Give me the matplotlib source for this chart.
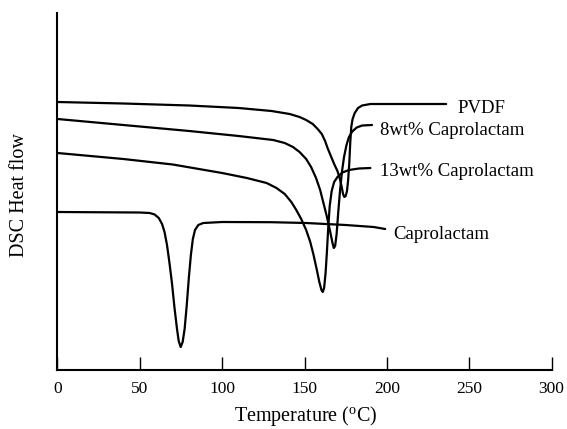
import matplotlib
matplotlib.use("Agg")
import matplotlib.pyplot as plt

plt.rcParams['font.family'] = ['Liberation Serif', 'DejaVu Serif']
plt.rcParams['mathtext.fontset'] = 'custom'
plt.rcParams['mathtext.rm'] = 'Liberation Serif'
plt.rcParams['mathtext.it'] = 'Liberation Serif:italic'

# ---- data ----
pvdf_T = [0, 40, 80, 110, 130, 141, 147, 151, 155, 158, 160.5, 162.5, 164, 166, 168, 170, 171.5, 172.6,
          173.4, 174.2, 175, 175.8, 176.5, 177.2, 177.8, 178.4, 179.2, 180.5, 182.5, 185, 190, 236]
pvdf_H = [268, 266.5, 264.5, 262, 259, 256, 253, 250, 246, 241, 236, 229, 222, 214, 206, 199, 191, 183,
          176, 173, 174, 179, 190, 207, 228, 243, 251, 257, 262, 264.5, 266, 266]

c8_T = [0, 40, 80, 110, 131, 138, 143, 147, 151, 154, 157, 159.5, 161.5, 163.5, 165.5, 167, 167.8,
        168.6, 169.5, 170.5, 171.6, 172.8, 174, 175.5, 177, 179, 181.7, 185, 191]
c8_H = [251, 245, 239, 234, 230, 227, 223, 218, 211, 203, 192, 180, 167, 154, 139, 127, 122,
        124, 136, 158, 180, 199, 213, 225, 233, 238.5, 242.5, 244.5, 245]

c13_T = [0, 40, 70, 100, 115, 127, 133, 138, 142, 145, 148, 151, 153.5, 155.5, 157.5, 159, 160.3, 161.1,
         161.9, 162.8, 163.6, 164.4, 165.3, 166.5, 168, 170, 173, 177, 183, 190]
c13_H = [217, 211, 205.5, 197, 192, 187, 182, 176, 168, 160, 151, 140, 128, 115, 100, 88, 80, 78,
         82, 97, 118, 142, 164, 179, 188, 193, 197.5, 200, 201.5, 202]

cap_T = [0, 50, 56, 59, 61.5, 63.5, 65, 66.5, 68, 69.5, 71, 72.5, 73.6, 74.8, 76, 77.2, 78.5, 79.8,
         81, 82.2, 83.5, 85.5, 88.5, 100, 130, 151, 175, 192, 199]
cap_H = [158, 157.5, 157, 155.5, 152, 146, 138, 125, 107, 87, 63, 42, 29, 23, 28, 41, 65, 93,
         115, 131, 140, 145, 147, 148, 147.8, 147, 145, 143, 141]

labels = ['PVDF', '8wt% Caprolactam', '13wt% Caprolactam', 'Caprolactam']
label_T = [242.8, 195.8, 195.8, 203.9]
label_H = [257, 235, 194, 131.5]

xticks = [0, 50, 100, 150, 200, 250, 300]

# ---- figure ----
fig = plt.figure(figsize=(5.67, 4.29), dpi=100)
ax = fig.add_axes([0.1014, 0.1375, 0.8713, 0.8322])

lw = 1.6
for T, H in [(pvdf_T, pvdf_H), (c8_T, c8_H), (c13_T, c13_H), (cap_T, cap_H)]:
    ax.plot(T, H, color='black', lw=lw, solid_joinstyle='round', solid_capstyle='round')

for lab, t, h in zip(labels, label_T, label_H):
    ax.text(t, h, lab, fontsize=13.5, ha='left', va='baseline', color='black')

ax.set_xlim(0, 300)
ax.set_ylim(0, 357)
ax.set_xticks(xticks)
ax.set_xticklabels([str(v) for v in xticks])
ax.set_yticks([])
ax.tick_params(axis='x', direction='in', length=9.5, width=1.0, pad=8, labelsize=12.5)
for s in ['top', 'right']:
    ax.spines[s].set_visible(False)
for s in ['left', 'bottom']:
    ax.spines[s].set_linewidth(1.5)

ax.set_xlabel(r'Temperature ($^{\mathrm{o}}$C)', fontsize=14.5, va='center')
ax.xaxis.set_label_coords(0.503, -0.128)
ax.set_ylabel('DSC Heat flow', fontsize=14.5, va='center')
ax.yaxis.set_label_coords(-0.076, 0.49)

fig.savefig('out.png', dpi=100)
